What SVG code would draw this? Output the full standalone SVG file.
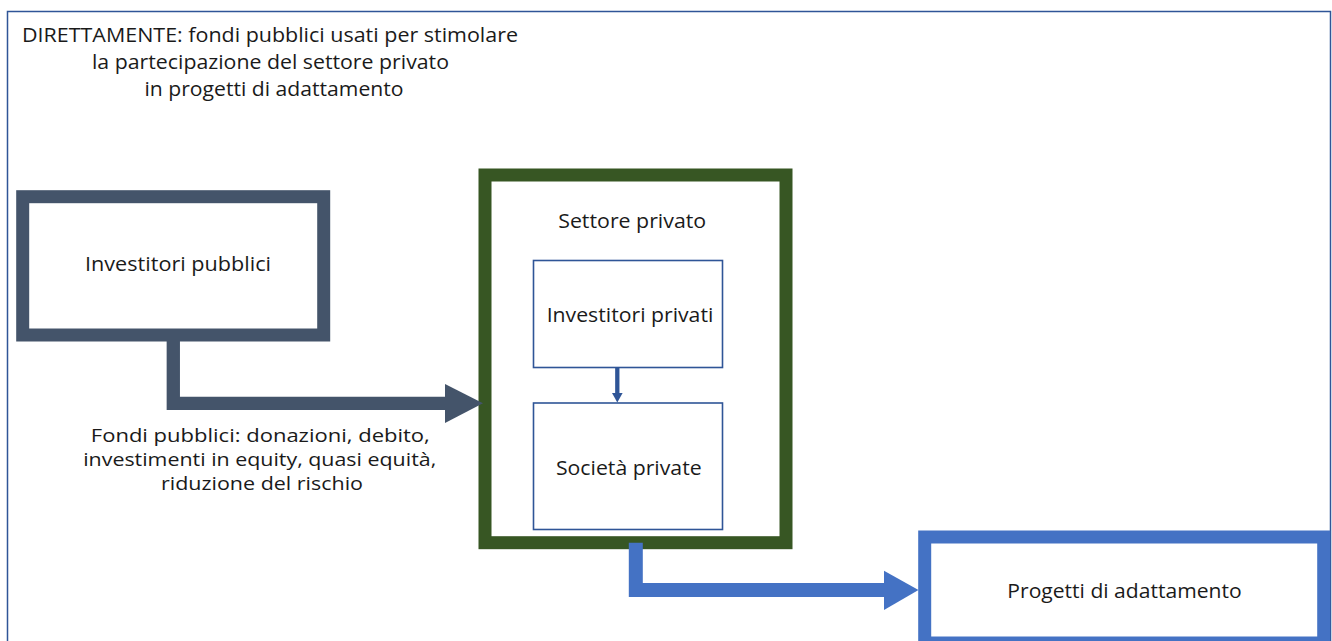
<svg xmlns="http://www.w3.org/2000/svg" width="1332" height="641" viewBox="0 0 1332 641">
<style>
text{font-family:"Open Sans","Noto Sans","Liberation Sans",sans-serif;font-size:19.5px;fill:#1a1a1a;text-anchor:middle}
.lbl{font-size:18px}
.thick{fill:#fff;stroke-width:13}
.thin{fill:#fff;stroke:#2F5597;stroke-width:1.6}
</style>
<rect width="1332" height="641" fill="#fff"/>
<g id="frame">
<rect x="7.5" y="11.5" width="1323" height="640" fill="none" stroke="#2F5597" stroke-width="1.5"/>
<text x="270" y="42" textLength="496" lengthAdjust="spacingAndGlyphs">DIRETTAMENTE: fondi pubblici usati per stimolare</text>
<text x="270.5" y="69" textLength="357" lengthAdjust="spacingAndGlyphs">la partecipazione del settore privato</text>
<text x="274" y="96" textLength="259" lengthAdjust="spacingAndGlyphs">in progetti di adattamento</text>
</g>
<g id="investitori-pubblici">
<rect class="thick" x="22.7" y="196.7" width="301" height="138.3" stroke="#44546A"/>
<text x="178" y="270.5" textLength="186" lengthAdjust="spacingAndGlyphs">Investitori pubblici</text>
</g>
<g id="settore-privato">
<rect class="thick" x="485" y="175" width="301" height="367.7" stroke="#375623"/>
<text x="632.2" y="228.3" textLength="148" lengthAdjust="spacingAndGlyphs">Settore privato</text>
</g>
<g id="investitori-privati">
<rect class="thin" x="533.5" y="260.5" width="189" height="107"/>
<text x="630" y="322.3" textLength="166.7" lengthAdjust="spacingAndGlyphs">Investitori privati</text>
</g>
<g id="societa-private">
<rect class="thin" x="533.5" y="403" width="189" height="126.5"/>
<text x="628.8" y="475" textLength="145.7" lengthAdjust="spacingAndGlyphs">Società private</text>
</g>
<g id="progetti">
<rect class="thick" x="924.7" y="537" width="399" height="106" stroke="#4472C4"/>
<text x="1124.5" y="598.3" textLength="234.3" lengthAdjust="spacingAndGlyphs">Progetti di adattamento</text>
</g>
<g id="connectors">
<path d="M173.3,341 V403.3 H446" fill="none" stroke="#44546A" stroke-width="13.3" stroke-linejoin="miter"/>
<polygon points="445,384 483,403.3 445,423" fill="#44546A"/>
<text class="lbl" x="260.3" y="441.5" textLength="339" lengthAdjust="spacingAndGlyphs">Fondi pubblici: donazioni, debito,</text>
<text class="lbl" x="259.7" y="465.5" textLength="353" lengthAdjust="spacingAndGlyphs">investimenti in equity, quasi equità,</text>
<text class="lbl" x="262" y="489.5" textLength="202" lengthAdjust="spacingAndGlyphs">riduzione del rischio</text>
<path d="M617.3,367.5 V395" fill="none" stroke="#2F5597" stroke-width="4.3"/>
<polygon points="612,393 622.6,393 617.3,402.5" fill="#2F5597"/>
<path d="M635.8,542.7 V590 H885" fill="none" stroke="#4472C4" stroke-width="14" stroke-linejoin="miter"/>
<polygon points="884,570.7 918.5,590 884,610" fill="#4472C4"/>
</g>
</svg>
